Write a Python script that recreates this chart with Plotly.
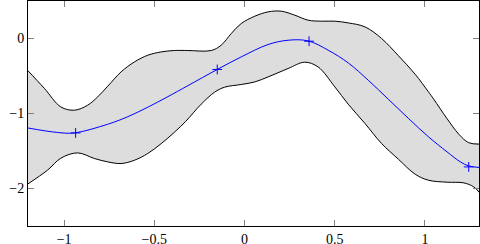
import plotly.graph_objects as go

# Observed data points
obs_x = [-0.936, -0.151, 0.358, 1.243]
obs_y = [-1.259, -0.413, -0.036, -1.712]

# Posterior mean
mean_x = [-1.203, -1.036, -0.943, -0.758, -0.647, -0.536, -0.425, -0.314, -0.151,
          -0.018, 0.131, 0.242, 0.353, 0.464, 0.575, 0.686, 0.797, 0.908, 1.019,
          1.123, 1.197, 1.243, 1.303]
mean_y = [-1.192, -1.253, -1.259, -1.143, -1.043, -0.916, -0.776, -0.629, -0.413,
          -0.245, -0.080, -0.023, -0.032, -0.156, -0.325, -0.556, -0.809, -1.063, -1.309,
          -1.512, -1.645, -1.699, -1.720]

# Upper confidence bound
upper_x = [-1.203, -1.110, -1.018, -0.943, -0.869, -0.814, -0.758, -0.684, -0.610,
           -0.536, -0.462, -0.388, -0.314, -0.184, -0.129, -0.073, -0.018, 0.057,
           0.131, 0.204, 0.279, 0.353, 0.427, 0.501, 0.575, 0.668, 0.760, 0.853,
           0.946, 1.019, 1.049, 1.123, 1.188, 1.243, 1.303]
upper_y = [-0.423, -0.663, -0.912, -0.956, -0.889, -0.779, -0.636, -0.445, -0.312,
           -0.223, -0.179, -0.160, -0.160, -0.160, -0.089, 0.067, 0.200, 0.297,
           0.355, 0.364, 0.311, 0.244, 0.231, 0.231, 0.208, 0.155, 0.000, -0.229,
           -0.476, -0.709, -0.809, -1.069, -1.276, -1.389, -1.409]

# Lower confidence bound
lower_x = [-1.203, -1.092, -1.018, -0.925, -0.832, -0.758, -0.684, -0.610, -0.536,
           -0.462, -0.388, -0.325, -0.240, -0.166, -0.110, -0.018, 0.057, 0.131,
           0.242, 0.334, 0.408, 0.501, 0.575, 0.668, 0.760, 0.853, 0.946, 1.019,
           1.123, 1.216, 1.271, 1.303]
lower_y = [-1.943, -1.756, -1.596, -1.525, -1.600, -1.645, -1.667, -1.623, -1.533,
           -1.402, -1.249, -1.103, -0.876, -0.716, -0.649, -0.613, -0.579, -0.512,
           -0.400, -0.316, -0.379, -0.645, -0.876, -1.133, -1.400, -1.609, -1.809, -1.889,
           -1.916, -1.925, -1.979, -2.056]

x_ticks = [-1, -0.5, 0, 0.5, 1]
y_ticks = [-2, -1, 0]

fig = go.Figure()

# shaded band
fig.add_trace(go.Scatter(
    x=upper_x + lower_x[::-1], y=upper_y + lower_y[::-1],
    fill="toself", fillcolor="#dddddd", line=dict(width=0, shape="spline"),
    mode="lines", hoverinfo="skip", showlegend=False))

fig.add_trace(go.Scatter(x=upper_x, y=upper_y, mode="lines",
                         line=dict(color="black", width=1, shape="spline"), showlegend=False))
fig.add_trace(go.Scatter(x=lower_x, y=lower_y, mode="lines",
                         line=dict(color="black", width=1, shape="spline"), showlegend=False))
fig.add_trace(go.Scatter(x=mean_x, y=mean_y, mode="lines",
                         line=dict(color="#0000ff", width=1, shape="spline"), showlegend=False))
fig.add_trace(go.Scatter(x=obs_x, y=obs_y, mode="markers",
                         marker=dict(symbol="cross-thin-open", size=7, color="#0000ff",
                                     line=dict(color="#0000ff", width=1)),
                         showlegend=False))

axis_common = dict(showgrid=False, zeroline=False, showline=True, linecolor="black",
                   linewidth=1, mirror="allticks", ticks="inside", ticklen=6,
                   tickcolor="#808080", tickwidth=1, automargin=False,
                   tickfont=dict(family="Liberation Serif", size=14, color="black"))

fig.update_layout(
    width=480, height=244,
    margin=dict(l=28, r=1, t=1, b=18, pad=0),
    plot_bgcolor="white", paper_bgcolor="white",
    xaxis=dict(range=[-1.2, 1.3], tickvals=x_ticks, ticklabelstandoff=0, **axis_common),
    yaxis=dict(range=[-2.5, 0.5], tickvals=y_ticks, **axis_common),
)

fig.write_html("out.html", config={"responsive": False, "displayModeBar": False},
               post_script="document.body.style.margin='0';document.body.style.overflow='hidden';")
